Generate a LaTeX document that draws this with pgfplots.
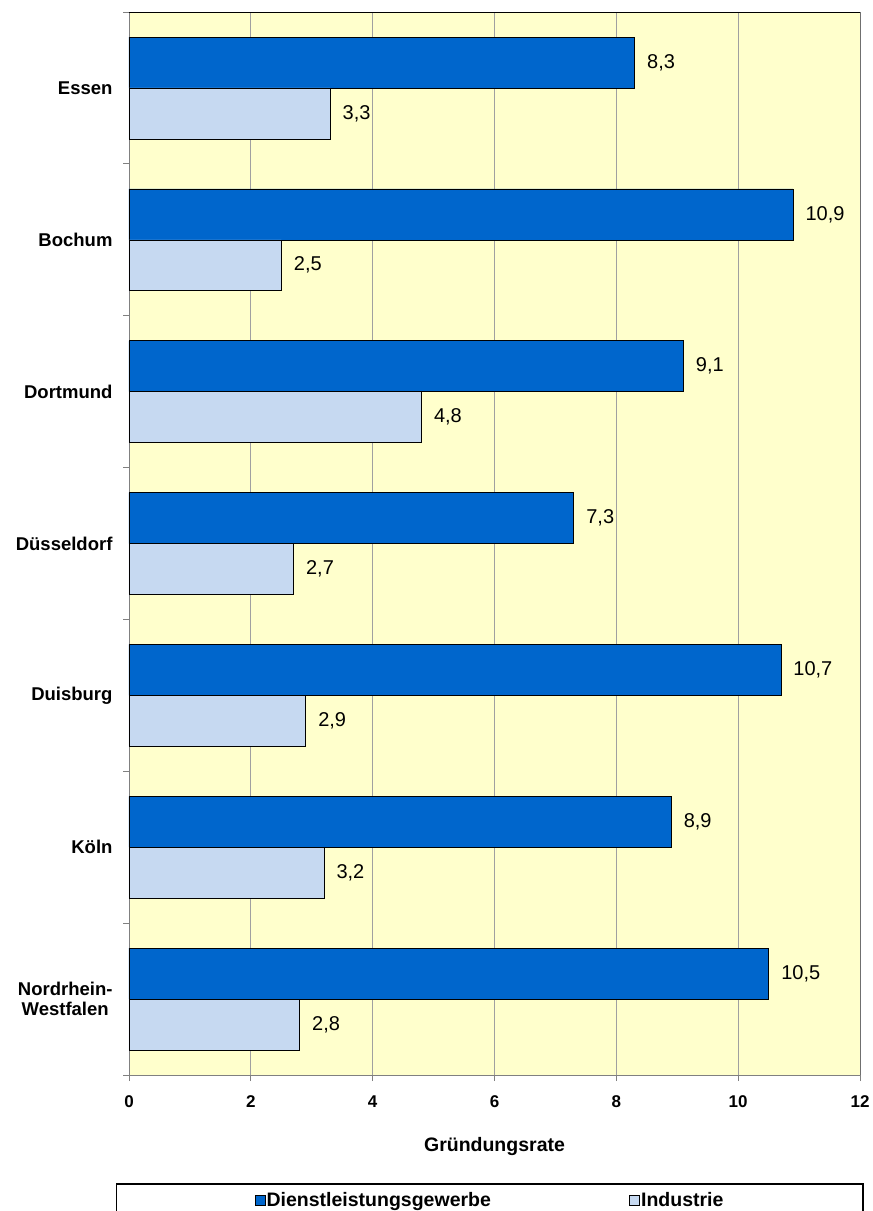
\documentclass[border=0pt]{standalone}
\usepackage{fontspec}
\setmainfont{Liberation Sans}
\usepackage{pgfplots}
\pgfplotsset{compat=1.18}
\definecolor{darkbar}{HTML}{0066CC}
\definecolor{lightbar}{HTML}{C6D9F1}
\definecolor{plotbg}{HTML}{FFFFCC}
\definecolor{gridgray}{HTML}{A0A0A0}
\definecolor{axgray}{HTML}{808080}
\begin{document}
\begin{tikzpicture}
\path[use as bounding box] (0,0) rectangle (873pt,1211pt);
\begin{axis}[
  at={(129pt,136pt)}, anchor=south west,
  scale only axis, width=731pt, height=1063pt,
  xbar, y dir=reverse,
  xmin=0, xmax=12, ymin=-0.5, ymax=6.5,
  bar width=0.335,
  axis background/.style={fill=plotbg},
  axis line style={axgray},
  xtick={0,2,...,12},
  xmajorgrids, major grid style={gridgray, line width=0.7pt},
  ytick={0,...,6},
  yticklabels={Essen,Bochum,Dortmund,Düsseldorf,Duisburg,Köln,{Nordrhein-\\Westfalen}},
  minor ytick={-0.5,0.5,...,6.5},
  major y tick style={draw=none},
  minor tick length=6pt, major tick length=6pt,
  tick style={axgray, line width=0.8pt},
  tick align=outside,
  xtick pos=bottom, ytick pos=left,
  /pgf/number format/assume math mode=true,
  xticklabel style={font=\bfseries\fontsize{17}{19}\selectfont, yshift=-11pt},
  yticklabel style={font=\bfseries\fontsize{18.5}{20}\selectfont, align=center, xshift=-7pt},
  every axis x label/.style={at={(axis description cs:0.5,-0.0677)}, anchor=center, font=\bfseries\fontsize{19.5}{22}\selectfont},
  xlabel={Gründungsrate},
  nodes near coords={\pgfmathprintnumber[fixed,fixed zerofill,precision=1,use comma,assume math mode=true]{\pgfplotspointmeta}},
  every node near coord/.append style={font=\fontsize{20}{22}\selectfont, black, anchor=west, xshift=9pt},
  legend columns=2,
  legend style={at={(axis description cs:-0.0178,-0.1016)}, anchor=north west,
    draw=black, line width=1.5pt, inner xsep=138pt, inner ysep=7pt,
    font=\bfseries\fontsize{19.5}{21}\selectfont,
    nodes={inner xsep=1.3pt},
    /tikz/every even column/.append style={column sep=137pt}},
]
\addplot[fill=darkbar, draw=black, line width=0.6pt, bar shift=-0.1675,
  legend image code/.code={\draw[fill=darkbar, draw=black, line width=0.6pt] (0pt,-5pt) rectangle (10pt,5pt);}]
  coordinates {(8.3,0) (10.9,1) (9.1,2) (7.3,3) (10.7,4) (8.9,5) (10.5,6)};
\addlegendentry{Dienstleistungsgewerbe}
\addplot[fill=lightbar, draw=black, line width=0.6pt, bar shift=0.1675,
  legend image code/.code={\draw[fill=lightbar, draw=black, line width=0.6pt] (0pt,-5pt) rectangle (10pt,5pt);}]
  coordinates {(3.3,0) (2.5,1) (4.8,2) (2.7,3) (2.9,4) (3.2,5) (2.8,6)};
\addlegendentry{Industrie}
\draw[black, line width=0.8pt] (axis description cs:0,1) -- (axis description cs:1,1) -- (axis description cs:1,0);
\end{axis}
\end{tikzpicture}
\end{document}
